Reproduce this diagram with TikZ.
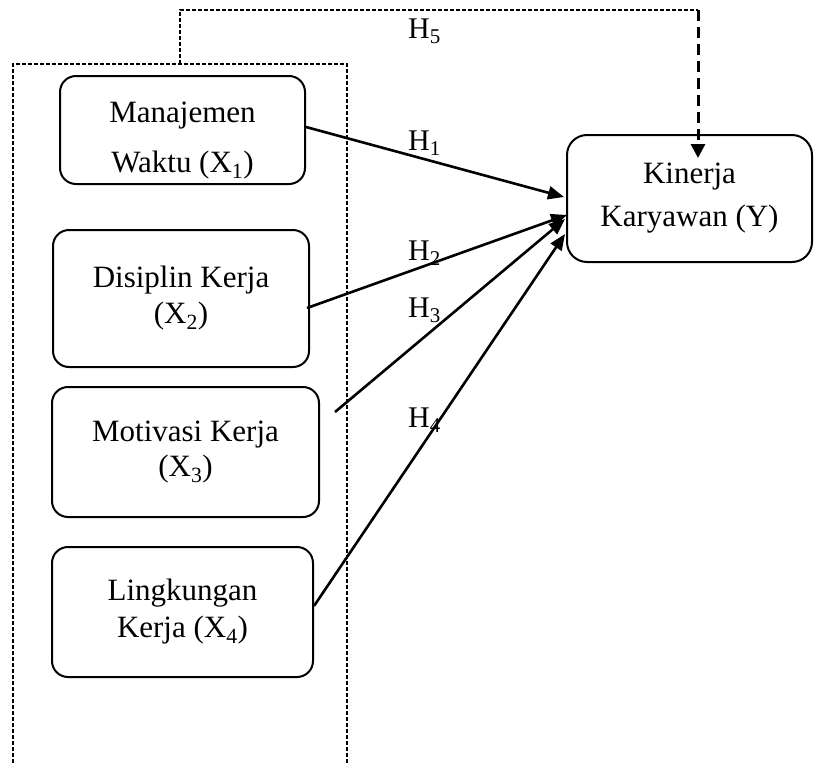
\documentclass[tikz,border=0pt]{standalone}
\usepackage{fontspec}
\setmainfont{Liberation Serif}
\usetikzlibrary{arrows.meta,calc}
\begin{document}
\begin{tikzpicture}[x=1pt,y=-1pt,
  box/.style={draw, line width=2pt, rounded corners=16pt, align=center, inner sep=0pt},
  conn/.style={line width=2.6pt, -{Triangle[length=16pt,width=13pt]}},
  grpline/.style={line width=1.6pt, dash pattern=on 4pt off 2pt},
  hdash/.style={line width=3pt, dash pattern=on 11pt off 6pt, -{Triangle[length=14pt,width=14pt]}},
  hlbl/.style={anchor=base west, inner sep=0pt, font=\fontsize{30}{36}\selectfont}
]
\useasboundingbox (0,0) rectangle (814,763);

% group frame (open at the bottom)
\draw[grpline] (13,763) -- (13,64) -- (347,64) -- (347,763);
\coordinate (grptop) at (180,64);
\coordinate (h5corner) at (698,10);

% boxes
\node[box, minimum width=245pt, minimum height=108pt, font=\fontsize{31}{50}\selectfont]
  (x1) at (182.5,130) {\rule{0pt}{42pt}Manajemen\\Waktu (X\textsubscript{1})};
\node[box, minimum width=256pt, minimum height=137pt, font=\fontsize{31}{36}\selectfont]
  (x2) at (181,298.5) {Disiplin Kerja\\(X\textsubscript{2})};
\node[box, minimum width=267pt, minimum height=130pt, font=\fontsize{31}{35}\selectfont]
  (x3) at (185.5,452) {Motivasi Kerja\\(X\textsubscript{3})};
\node[box, minimum width=261pt, minimum height=130pt, font=\fontsize{31}{37}\selectfont]
  (x4) at (182.5,612) {Lingkungan\\Kerja (X\textsubscript{4})};
\node[box, rounded corners=20pt, minimum width=245pt, minimum height=127pt, font=\fontsize{31}{43}\selectfont]
  (y) at (689.5,198.5) {Kinerja\\Karyawan (Y)};

% connectors
\draw[conn] ($(x1.east)+(0,-3)$) -- ($(y.west)+(-2,-1.5)$);
\draw[conn] ($(x2.east)+(-3,9.5)$) -- ($(y.west)+(1,16.5)$);
\draw[conn] ($(x3.east)+(15,-40)$) -- ($(y.west)+(-1,20.5)$);
\draw[conn] ($(x4.east)+(0,-6)$) -- ($(y.west)+(-1,35.5)$);
\draw[grpline] (grptop) -- (grptop |- h5corner) -- (h5corner);
\draw[hdash] (h5corner) -- ($(y.north)+(8.5,24)$);

% labels
\node[hlbl] (h5) at (408,38) {H\textsubscript{5}};
\node[hlbl] (h1) at (408,150) {H\textsubscript{1}};
\node[hlbl] (h2) at (408,260) {H\textsubscript{2}};
\node[hlbl] (h3) at (408,317) {H\textsubscript{3}};
\node[hlbl] (h4) at (408,427) {H\textsubscript{4}};
\end{tikzpicture}
\end{document}
